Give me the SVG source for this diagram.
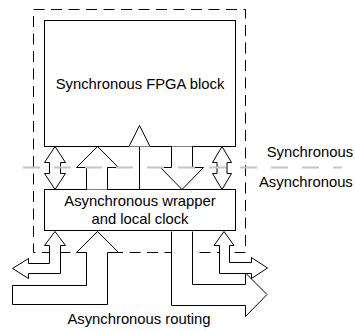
<svg xmlns="http://www.w3.org/2000/svg" width="355" height="331" viewBox="0 0 355 331">
<style>
.box{fill:#fff;stroke:#000;stroke-width:1}
.arr{fill:#fff;stroke:#000;stroke-width:1;stroke-linejoin:miter}
.ln{fill:none;stroke:#000;stroke-width:1}
.t{font-family:"Liberation Sans",Arial,Helvetica,sans-serif;font-size:14.8px;fill:#000}
.outer{fill:none;stroke:#000;stroke-width:1;stroke-dasharray:11 6.5}
.div{fill:none;stroke:#c4c4c4;stroke-width:2;stroke-dasharray:17 14}
</style>
<rect width="355" height="331" fill="#fff"/>
<g id="wrapper-boundary">
<rect class="outer" x="33.5" y="9.5" width="212" height="243"/>
</g>
<g id="fpga-block">
<rect class="box" x="44.5" y="20.5" width="191" height="126"/>
<text class="t" x="140" y="88.5" text-anchor="middle">Synchronous FPGA block</text>
</g>
<g id="async-wrapper">
<rect class="box" x="44.5" y="189.5" width="191" height="41"/>
<text class="t" x="140" y="206" text-anchor="middle">Asynchronous wrapper</text>
<text class="t" x="140" y="223.5" text-anchor="middle">and local clock</text>
</g>
<g id="connectors">
<path class="arr" d="M55,146.5 L44.5,162.5 H49.5 V173.5 H44.5 L55,189.5 L65.5,173.5 H60.5 V162.5 H65.5 Z"/>
<path class="arr" d="M86.5,189.5 V167.5 H76.5 L97.5,146.5 L118.5,167.5 H107.5 V189.5"/>
<line class="ln" x1="139.5" y1="146.5" x2="139.5" y2="189.5"/>
<path class="arr" d="M129,146.5 L139.5,125.5 L150,146.5"/>
<path class="arr" d="M171.5,146.5 V167.5 H160.5 L182,189.5 L203.5,167.5 H192.5 V146.5"/>
<path class="arr" d="M222,146.5 L212.5,162.5 H217 V173.5 H212.5 L222,189.5 L231.5,173.5 H227 V162.5 H231.5 Z"/>
<path class="arr" d="M55,231.5 L44.5,245.5 H49.5 V263.5 H28.5 V258.5 L12.5,268.5 L28.5,278.5 V273.5 H60.5 V245.5 H65.5 Z"/>
<path class="arr" d="M97.5,231.5 L76.5,252.5 H86.5 V285.5 H12.5 V304.5 H107.5 V252.5 H118.5 Z"/>
<path class="arr" d="M171.5,231.5 V305.5 H245.5 V316.5 L267,294.5 L245.5,273 V284.5 H192.5 V231.5"/>
<path class="arr" d="M224,231.5 L214,245.5 H219.5 V273.5 H251.5 V278.5 L267.5,268 L251.5,257.5 V262.5 H229.5 V245.5 H234 Z"/>
</g>
<g id="domain-divider">
<line class="div" x1="23" y1="167.5" x2="342" y2="167.5"/>
<text class="t" x="266.7" y="156.5">Synchronous</text>
<text class="t" x="259" y="187.3">Asynchronous</text>
</g>
<g id="routing-label">
<text class="t" x="139" y="323.5" text-anchor="middle">Asynchronous routing</text>
</g>
</svg>
